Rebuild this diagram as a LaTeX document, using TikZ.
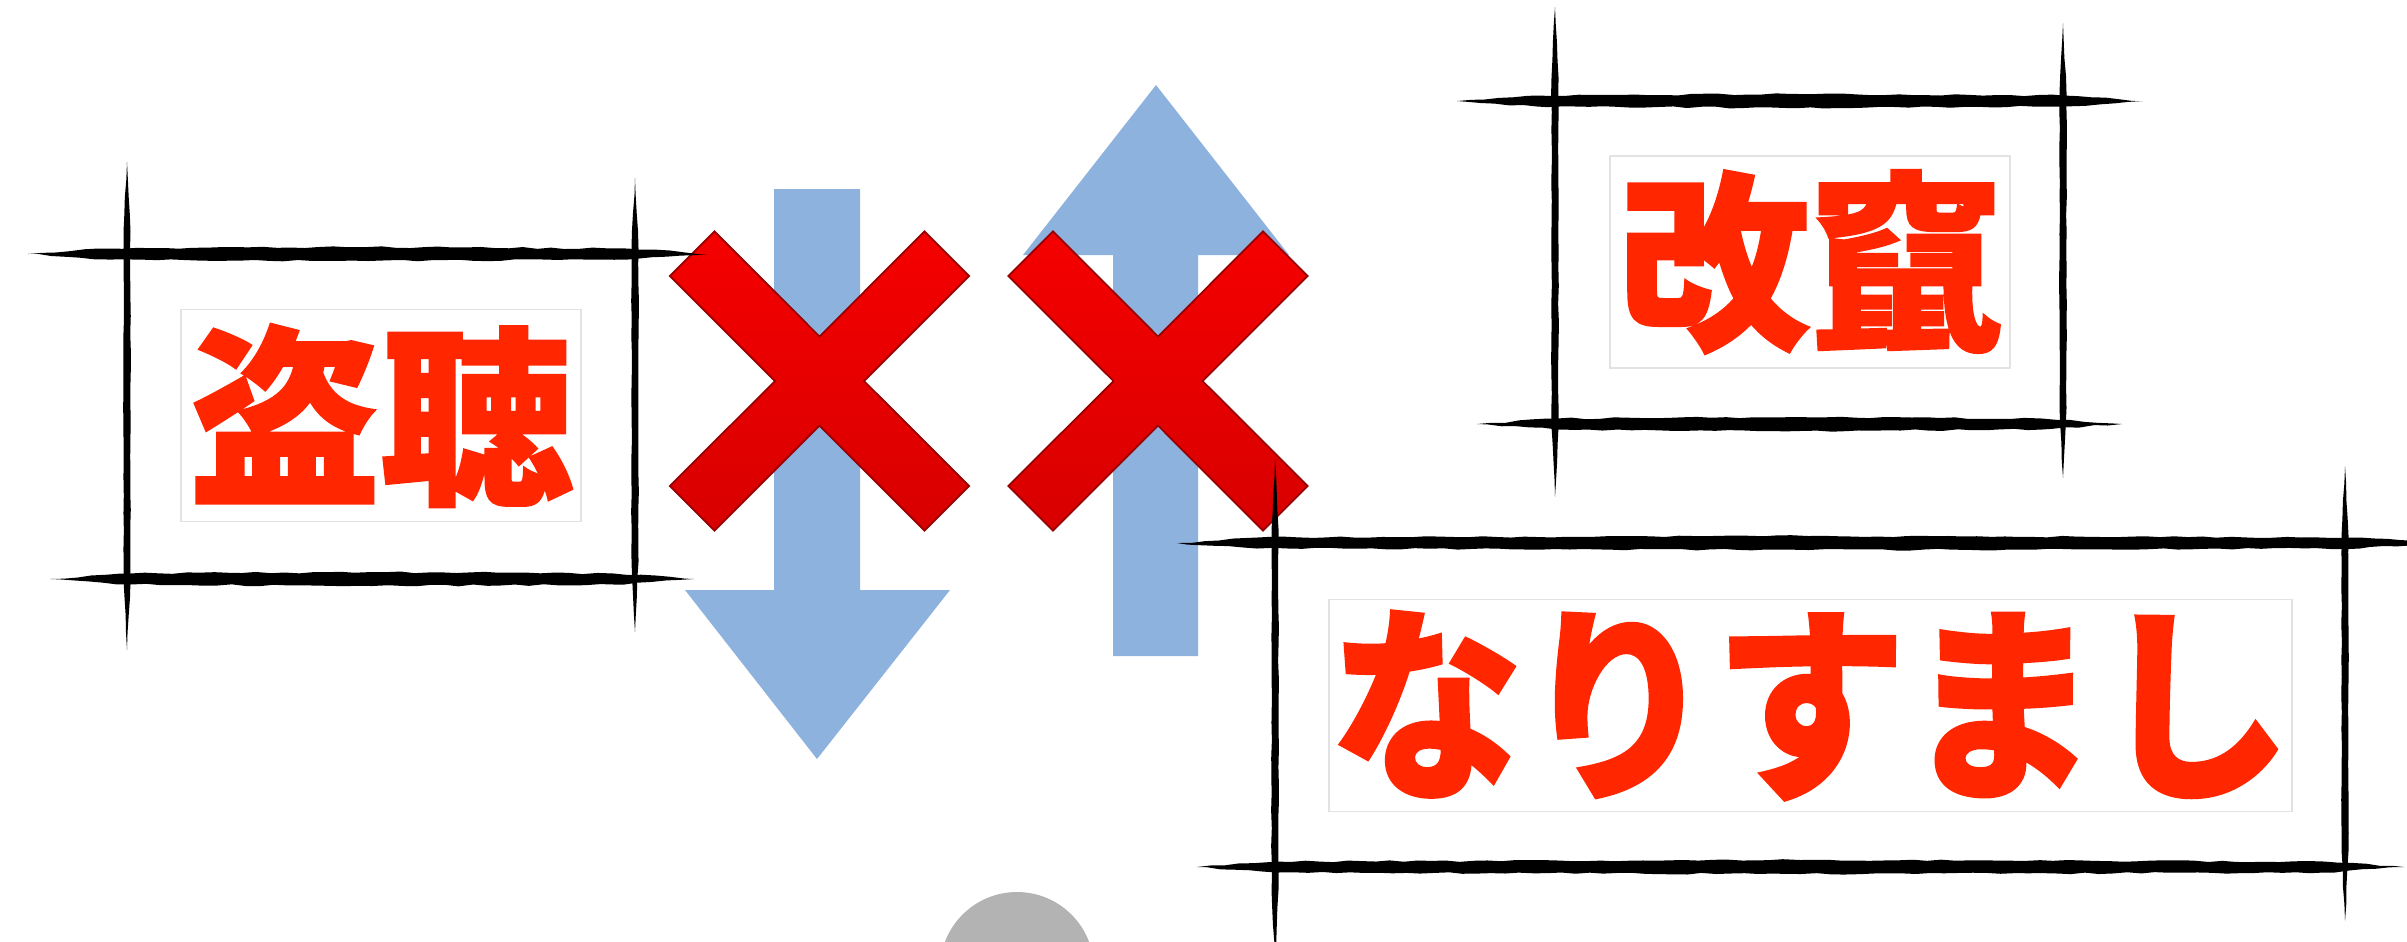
\documentclass[tikz,border=0pt]{standalone}
\usepackage{fontspec}
\usepackage{graphicx}
\newfontfamily\jp{Noto Sans CJK JP}[BoldFeatures={FakeBold=1.4}]
\usetikzlibrary{decorations.pathmorphing}
\definecolor{txtred}{RGB}{255,38,0}
\definecolor{arrowblue}{RGB}{142,178,222}
\definecolor{xtop}{RGB}{245,0,0}
\definecolor{xbot}{RGB}{216,0,0}
\definecolor{xedge}{RGB}{150,0,0}
\definecolor{blobgray}{RGB}{179,179,179}
\definecolor{boxedge}{RGB}{226,226,226}
\tikzset{
  hbrushstyle/.style={fill=black, decorate, decoration={random steps, segment length=4pt, amplitude=0.25pt}},
  vbrushstyle/.style={fill=black, decorate, decoration={random steps, segment length=5pt, amplitude=0.12pt}},
  labelbox/.style={draw=boxedge, line width=0.5pt, fill=white, inner sep=0pt,
    minimum height=2.12cm, text=txtred, font=\jp\bfseries\fontsize{54.6pt}{60pt}\selectfont},
  bluearrow/.style={fill=arrowblue},
  cross/.style={top color=xtop, bottom color=xbot, draw=xedge, line width=0.5pt},
}
% horizontal brush stroke: x1, x2, y, thickness
\newcommand\HBrush[4]{%
  \path[hbrushstyle] (#1,#3) -- ({#1+80},{#3-#4/2}) -- ({(#1+#2)/2},{#3-#4/2-1.5}) -- ({#2-80},{#3-#4/2}) -- (#2,#3)
    -- ({#2-80},{#3+#4/2}) -- ({(#1+#2)/2},{#3+#4/2+1.5}) -- ({#1+80},{#3+#4/2}) -- cycle;}
% vertical brush stroke: x, y1, y2, thickness
\newcommand\VBrush[4]{%
  \path[vbrushstyle] (#1,#2) -- ({#1-#4/2},{#2+70}) -- ({#1-#4/2},{#3-70}) -- (#1,#3)
    -- ({#1+#4/2},{#3-70}) -- ({#1+#4/2},{#2+70}) -- cycle;}
% red cross centred at a point
\newcommand\RedCross[1]{%
  \path[cross, shift={#1}] (0,44.5) -- (105,149.6) -- (149.6,105) -- (44.5,0)
    -- (149.6,-105) -- (105,-149.6) -- (0,-44.5) -- (-105,-149.6) -- (-149.6,-105)
    -- (-44.5,0) -- (-149.6,105) -- (-105,149.6) -- cycle;}
\begin{document}
\begin{tikzpicture}[x=0.01cm, y=-0.01cm]
\pgfmathsetseed{7}
\useasboundingbox (0,0) rectangle (2407,941);
\clip (0,0) rectangle (2407,941);
\fill[white] (0,0) rectangle (2407,941);

% grey blob at the bottom
\fill[blobgray] (1017,969) circle[radius=77];

% blue arrows
\path[bluearrow] (774,189) -- (860,189) -- (860,590) -- (950,590) -- (817,759)
  -- (685,590) -- (774,590) -- cycle;
\path[bluearrow] (1113,656) -- (1198,656) -- (1198,255) -- (1289,255) -- (1156,85)
  -- (1023,255) -- (1113,255) -- cycle;

% red crosses
\RedCross{(819.5,381)}
\RedCross{(1158,381)}

% label boxes
\node[labelbox, minimum width=4cm] (tocho) at (381,415.5) {盗聴};
\node[labelbox, minimum width=4cm] (kaizan) at (1810,262) {改竄};
\node[labelbox, minimum width=9.63cm] (narisumashi) at (1810.5,705.5) {\scalebox{1}[1.08]{なりすまし}};

% brush frames: tocho
\HBrush{28}{708}{254}{11}
\HBrush{50}{694}{579}{11}
\VBrush{127}{162}{650}{7}
\VBrush{635}{178}{632}{7}
% kaizan
\HBrush{1457}{2143}{101}{11}
\HBrush{1477}{2122}{424}{11}
\VBrush{1555}{7}{497}{7}
\VBrush{2063}{23}{478}{7}
% narisumashi
\HBrush{1177}{2440}{543}{11}
\HBrush{1197}{2404}{867}{11}
\VBrush{1275}{459}{960}{7}
\VBrush{2345}{466}{921}{7}
\end{tikzpicture}
\end{document}
